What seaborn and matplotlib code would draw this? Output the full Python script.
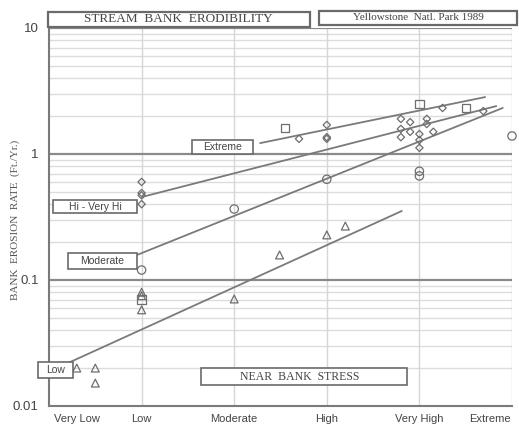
import matplotlib
matplotlib.use("Agg")
import matplotlib.pyplot as plt
import seaborn as sns
from matplotlib.patches import Rectangle
from matplotlib.ticker import LogLocator, NullFormatter, FixedLocator

# near bank stress category positions (0 = left edge, 5 = right edge)
tick_pos = [0.30, 1, 2, 3, 4, 4.76]
tick_labels = ["Very Low", "Low", "Moderate", "High", "Very High", "Extreme"]

# observed points, grouped by bank erodibility class
low_x = [0.30, 0.50, 0.50, 1.0, 1.0, 1.0, 2.0, 2.49, 3.0, 3.2]
low_y = [0.020, 0.020, 0.0152, 0.080, 0.075, 0.058, 0.0707, 0.158, 0.228, 0.268]

mod_x = [1.0, 2.0, 3.0, 4.0, 4.0, 5.0]
mod_y = [0.12, 0.366, 0.63, 0.73, 0.67, 1.39]

hi_x = [1.0, 1.0, 1.0, 1.0, 2.70, 3.0, 3.0, 3.0, 3.80, 3.80, 3.80, 3.90, 3.90,
        4.0, 4.0, 4.0, 4.08, 4.08, 4.15, 4.25, 4.69]
hi_y = [0.60, 0.49, 0.47, 0.40, 1.32, 1.70, 1.36, 1.32, 1.90, 1.58, 1.36, 1.79, 1.50,
        1.44, 1.29, 1.12, 1.90, 1.73, 1.50, 2.32, 2.19]

ext_x = [1.0, 2.55, 4.0, 4.50]
ext_y = [0.070, 1.61, 2.49, 2.32]

# fitted relations (end points)
fit_low_x, fit_low_y = [0.227, 3.81], [0.0223, 0.353]
fit_mod_x, fit_mod_y = [0.95, 4.90], [0.158, 2.32]
fit_hi_x, fit_hi_y = [1.004, 4.83], [0.456, 2.40]
fit_ext_x, fit_ext_y = [2.28, 4.71], [1.22, 2.83]

sns.set_style("white")
plt.rcParams["font.family"] = ["Liberation Sans", "DejaVu Sans"]

W, H = 519, 426
fig = plt.figure(figsize=(W / 100, H / 100), dpi=100)
ax = fig.add_axes([49 / W, 1 - 406 / H, (512 - 49) / W, (406 - 28) / H])

grey = "#6e6e6e"
ax.set_yscale("log")
ax.set_xlim(0, 5)
ax.set_ylim(0.01, 10)

# grid
for dec in [0.01, 0.1, 1]:
    for m in range(2, 10):
        ax.axhline(dec * m, color="#dcdcdc", lw=1, zorder=0)
for v in [0.1, 1, 10]:
    ax.axhline(v, color="#8a8a8a", lw=1.6, zorder=1)
for xv in [1, 2, 3, 4, 5]:
    ax.axvline(xv, color="#d6d6d6", lw=1, zorder=0)

# fitted lines
for fx, fy in [(fit_low_x, fit_low_y), (fit_mod_x, fit_mod_y),
               (fit_hi_x, fit_hi_y), (fit_ext_x, fit_ext_y)]:
    sns.lineplot(x=fx, y=fy, ax=ax, color="#7a7a7a", lw=1.3, zorder=3)

# points
sns.scatterplot(x=low_x, y=low_y, ax=ax, marker="^", s=32, facecolor="none",
                edgecolor=grey, linewidth=0.9, zorder=4, clip_on=False)
sns.scatterplot(x=mod_x, y=mod_y, ax=ax, marker="o", s=36, facecolor="none",
                edgecolor=grey, linewidth=0.9, zorder=4, clip_on=False)
sns.scatterplot(x=hi_x, y=hi_y, ax=ax, marker="D", s=14, facecolor="none",
                edgecolor=grey, linewidth=0.9, zorder=4, clip_on=False)
sns.scatterplot(x=ext_x, y=ext_y, ax=ax, marker="s", s=36, facecolor="none",
                edgecolor=grey, linewidth=0.9, zorder=4, clip_on=False)

# axes styling
for s in ["top", "right"]:
    ax.spines[s].set_visible(False)
for s in ["left", "bottom"]:
    ax.spines[s].set_color("#7a7a7a")
    ax.spines[s].set_linewidth(1.5)
ax.xaxis.set_major_locator(FixedLocator(tick_pos))
ax.set_xticklabels(tick_labels, fontsize=8, color="#444")
ax.tick_params(axis="x", length=0, pad=6)
ax.yaxis.set_minor_locator(LogLocator(base=10, subs=range(2, 10), numticks=20))
ax.yaxis.set_minor_formatter(NullFormatter())
ax.set_yticks([0.01, 0.1, 1, 10])
ax.set_yticklabels(["0.01", "0.1", "1", "10"], fontsize=9.5, color="#444")
ax.tick_params(axis="y", which="major", length=4, color="#7a7a7a", direction="out")
ax.tick_params(axis="y", which="minor", length=2.5, color="#7a7a7a", direction="out")
ax.set_ylabel("")
fig.text(15 / W, 1 - 220 / H, "BANK  EROSION  RATE  (Ft./Yr.)", rotation=90,
         ha="center", va="center", fontsize=8, family="Liberation Serif", color="#555")


def box(x0, y0, x1, y1, text, font, size, lw=1.2, tx=None):
    fig.patches.append(Rectangle((x0 / W, 1 - y1 / H), (x1 - x0) / W, (y1 - y0) / H,
                                 transform=fig.transFigure, fc="white", ec="#6a6a6a",
                                 lw=lw, zorder=10))
    cx = (x0 + x1) / 2 if tx is None else tx
    fig.text(cx / W, 1 - (y0 + y1) / 2 / H, text, ha="center", va="center",
             fontsize=size, family=font, color="#444", zorder=11)


box(48, 12, 310, 27, "STREAM  BANK  ERODIBILITY", "Liberation Serif", 9.5, lw=1.6, tx=178)
box(319, 11, 517, 25, "Yellowstone  Natl. Park 1989", "Liberation Serif", 8, lw=1.6)
box(192, 140, 253, 154, "Extreme", "Liberation Sans", 7.5)
box(53, 200, 137, 213, "Hi - Very Hi", "Liberation Sans", 7.5)
box(68, 253, 137, 269, "Moderate", "Liberation Sans", 7.5)
box(38, 362, 73, 378, "Low", "Liberation Sans", 7.5)
box(201, 368, 407, 385, "NEAR  BANK  STRESS", "Liberation Serif", 8.5, tx=300)

fig.savefig("out.png", dpi=100)
